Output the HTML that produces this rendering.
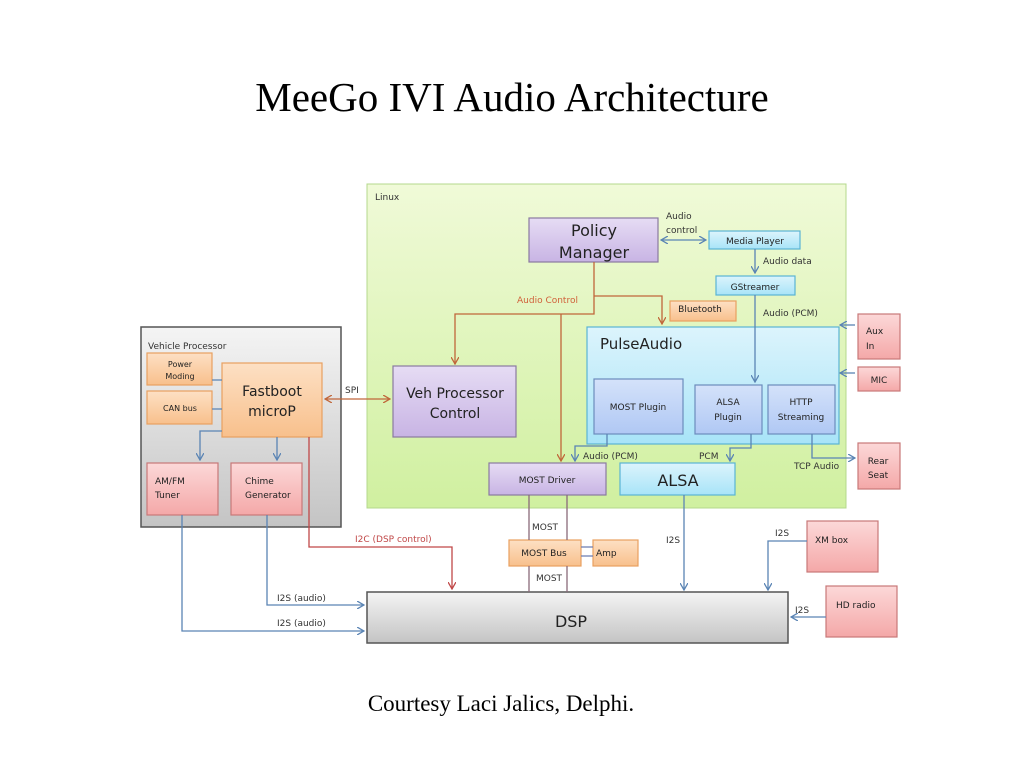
<!DOCTYPE html>
<html><head><meta charset="utf-8"><style>
body{margin:0;background:#fff;width:1024px;height:768px;overflow:hidden}
svg text{font-family:"DejaVu Sans","Liberation Sans",sans-serif}
</style></head><body>
<svg width="1024" height="768" viewBox="0 0 1024 768" xmlns="http://www.w3.org/2000/svg">
<defs>
<linearGradient id="g" x1="0" y1="0" x2="0" y2="1"><stop offset="0" stop-color="#f0fad8"/><stop offset="1" stop-color="#d0f0a0"/></linearGradient>
<linearGradient id="gr" x1="0" y1="0" x2="0" y2="1"><stop offset="0" stop-color="#f4f4f4"/><stop offset="1" stop-color="#c4c4c4"/></linearGradient>
<linearGradient id="pu" x1="0" y1="0" x2="0" y2="1"><stop offset="0" stop-color="#e6dcf4"/><stop offset="1" stop-color="#c8b4e4"/></linearGradient>
<linearGradient id="cy" x1="0" y1="0" x2="0" y2="1"><stop offset="0" stop-color="#dcf4fc"/><stop offset="1" stop-color="#a8e4f8"/></linearGradient>
<linearGradient id="bl" x1="0" y1="0" x2="0" y2="1"><stop offset="0" stop-color="#d4e2fa"/><stop offset="1" stop-color="#b0c8f4"/></linearGradient>
<linearGradient id="or" x1="0" y1="0" x2="0" y2="1"><stop offset="0" stop-color="#fde0c4"/><stop offset="1" stop-color="#f8c08c"/></linearGradient>
<linearGradient id="rd" x1="0" y1="0" x2="0" y2="1"><stop offset="0" stop-color="#fcd8d8"/><stop offset="1" stop-color="#f4a8a8"/></linearGradient>
<marker id="ab" markerWidth="8" markerHeight="8" refX="7" refY="4" orient="auto-start-reverse" markerUnits="userSpaceOnUse"><path d="M0,0 L7,4 L0,8" fill="none" stroke="#5a84b4" stroke-width="1.3"/></marker>
<marker id="ao" markerWidth="8" markerHeight="8" refX="7" refY="4" orient="auto-start-reverse" markerUnits="userSpaceOnUse"><path d="M0,0 L7,4 L0,8" fill="none" stroke="#c0663a" stroke-width="1.3"/></marker>
<marker id="ar" markerWidth="8" markerHeight="8" refX="7" refY="4" orient="auto-start-reverse" markerUnits="userSpaceOnUse"><path d="M0,0 L7,4 L0,8" fill="none" stroke="#c04848" stroke-width="1.3"/></marker>
</defs>
<text x="512" y="111" text-anchor="middle" style="font-family:'Liberation Serif',serif" font-size="41">MeeGo IVI Audio Architecture</text>
<text x="501" y="711" text-anchor="middle" style="font-family:'Liberation Serif',serif" font-size="23">Courtesy Laci Jalics, Delphi.</text>

<rect x="367" y="184" width="479" height="324" fill="url(#g)" stroke="#b4d88c"/>
<text x="375" y="200" font-size="9" fill="#333">Linux</text>
<rect x="141" y="327" width="200" height="200" fill="url(#gr)" stroke="#555" stroke-width="1.5"/>
<text x="148" y="349" font-size="9" fill="#333">Vehicle Processor</text>

<g stroke-width="1.2">
<rect x="529" y="218" width="129" height="44" fill="url(#pu)" stroke="#8a7aa0"/>
<rect x="393" y="366" width="123" height="71" fill="url(#pu)" stroke="#8a7aa0"/>
<rect x="489" y="463" width="117" height="32" fill="url(#pu)" stroke="#8a7aa0"/>
<rect x="709" y="231" width="91" height="18" fill="url(#cy)" stroke="#5ab4d4"/>
<rect x="716" y="276" width="79" height="19" fill="url(#cy)" stroke="#5ab4d4"/>
<rect x="587" y="327" width="252" height="117" fill="url(#cy)" stroke="#5ab4d4"/>
<rect x="620" y="463" width="115" height="32" fill="url(#cy)" stroke="#5ab4d4"/>
<rect x="594" y="379" width="89" height="55" fill="url(#bl)" stroke="#6c8cbc"/>
<rect x="695" y="385" width="67" height="49" fill="url(#bl)" stroke="#6c8cbc"/>
<rect x="768" y="385" width="67" height="49" fill="url(#bl)" stroke="#6c8cbc"/>
<rect x="670" y="301" width="66" height="20" fill="url(#or)" stroke="#e8a060"/>
<rect x="147" y="353" width="65" height="32" fill="url(#or)" stroke="#e8a060"/>
<rect x="147" y="391" width="65" height="33" fill="url(#or)" stroke="#e8a060"/>
<rect x="222" y="363" width="100" height="74" fill="url(#or)" stroke="#e8a060"/>
<rect x="509" y="540" width="72" height="26" fill="url(#or)" stroke="#e8a060"/>
<rect x="593" y="540" width="45" height="26" fill="url(#or)" stroke="#e8a060"/>
<rect x="147" y="463" width="71" height="52" fill="url(#rd)" stroke="#c87878"/>
<rect x="231" y="463" width="71" height="52" fill="url(#rd)" stroke="#c87878"/>
<rect x="858" y="314" width="42" height="45" fill="url(#rd)" stroke="#c87878"/>
<rect x="858" y="367" width="42" height="24" fill="url(#rd)" stroke="#c87878"/>
<rect x="858" y="443" width="42" height="46" fill="url(#rd)" stroke="#c87878"/>
<rect x="807" y="521" width="71" height="51" fill="url(#rd)" stroke="#c87878"/>
<rect x="826" y="586" width="71" height="51" fill="url(#rd)" stroke="#c87878"/>
<rect x="367" y="592" width="421" height="51" fill="url(#gr)" stroke="#555" stroke-width="1.5"/>
</g>

<g font-size="16" fill="#222" text-anchor="middle">
<text x="594" y="236">Policy</text><text x="594" y="258">Manager</text>
<text x="455" y="398" font-size="14">Veh Processor</text><text x="455" y="418" font-size="14">Control</text>
<text x="272" y="396" font-size="14">Fastboot</text><text x="272" y="416" font-size="14">microP</text>
<text x="678" y="486" font-size="16">ALSA</text>
<text x="571" y="627" font-size="16">DSP</text>
</g>
<text x="600" y="349" font-size="15" fill="#222">PulseAudio</text>
<g font-size="9" fill="#222" text-anchor="middle">
<text x="755" y="244">Media Player</text>
<text x="755" y="290">GStreamer</text>
<text x="700" y="312">Bluetooth</text>
<text x="638" y="410">MOST Plugin</text>
<text x="728" y="405">ALSA</text><text x="728" y="420">Plugin</text>
<text x="801" y="405">HTTP</text><text x="801" y="420">Streaming</text>
<text x="547" y="483">MOST Driver</text>
<text x="544" y="556">MOST Bus</text>
<text x="879" y="383">MIC</text>
<text x="878" y="464">Rear</text><text x="878" y="478">Seat</text>
<text x="180" y="367" font-size="8">Power</text><text x="180" y="379" font-size="8">Moding</text>
<text x="180" y="411" font-size="8">CAN bus</text>
</g>
<g font-size="9" fill="#222">
<text x="866" y="334">Aux</text>
<text x="866" y="349">In</text>
<text x="596" y="556">Amp</text>
<text x="155" y="484">AM/FM</text><text x="155" y="498">Tuner</text>
<text x="245" y="484">Chime</text><text x="245" y="498">Generator</text>
<text x="815" y="543">XM box</text>
<text x="836" y="608">HD radio</text>
</g>

<g font-size="9" fill="#333">
<text x="666" y="219">Audio</text><text x="666" y="233">control</text>
<text x="763" y="264">Audio data</text>
<text x="763" y="316">Audio (PCM)</text>
<text x="583" y="459">Audio (PCM)</text>
<text x="699" y="459">PCM</text>
<text x="794" y="469">TCP Audio</text>
<text x="532" y="530">MOST</text>
<text x="536" y="581">MOST</text>
<text x="666" y="543">I2S</text>
<text x="775" y="536">I2S</text>
<text x="795" y="613">I2S</text>
<text x="345" y="393">SPI</text>
<text x="277" y="601">I2S (audio)</text>
<text x="277" y="626">I2S (audio)</text>
</g>
<text x="517" y="303" font-size="9" fill="#d0603a">Audio Control</text>
<text x="355" y="542" font-size="9" fill="#c04848">I2C (DSP control)</text>

<g fill="none" stroke-width="1.3">
<path d="M661,240 L706,240" stroke="#5a84b4" marker-start="url(#ab)" marker-end="url(#ab)"/>
<path d="M755,249 L755,273" stroke="#5a84b4" marker-end="url(#ab)"/>
<path d="M755,295 L755,382" stroke="#5a84b4" marker-end="url(#ab)"/>
<path d="M607,434 L607,446 L575,446 L575,461" stroke="#5a84b4" marker-end="url(#ab)"/>
<path d="M751,434 L751,448 L730,448 L730,461" stroke="#5a84b4" marker-end="url(#ab)"/>
<path d="M812,434 L812,458 L855,458" stroke="#5a84b4" marker-end="url(#ab)"/>
<path d="M855,325 L840,325" stroke="#5a84b4" marker-end="url(#ab)"/>
<path d="M855,373 L840,373" stroke="#5a84b4" marker-end="url(#ab)"/>
<path d="M594,262 L594,314 L455,314 L455,364" stroke="#c0663a" marker-end="url(#ao)"/>
<path d="M594,296 L662,296 L662,324" stroke="#c0663a" marker-end="url(#ao)"/>
<path d="M561,314 L561,461" stroke="#c0663a" marker-end="url(#ao)"/>
<path d="M325,399 L390,399" stroke="#c0663a" marker-start="url(#ao)" marker-end="url(#ao)"/>
<path d="M212,380 L222,380 M212,409 L222,409" stroke="#5a84b4"/>
<path d="M222,431 L200,431 L200,460" stroke="#5a84b4" marker-end="url(#ab)"/>
<path d="M277,437 L277,460" stroke="#5a84b4" marker-end="url(#ab)"/>
<path d="M309,437 L309,547 L452,547 L452,589" stroke="#c04848" marker-end="url(#ar)"/>
<path d="M267,515 L267,605 L364,605" stroke="#5a84b4" marker-end="url(#ab)"/>
<path d="M182,515 L182,631 L364,631" stroke="#5a84b4" marker-end="url(#ab)"/>
<path d="M529,495 L529,540 M529,566 L529,592 M567,495 L567,540 M567,566 L567,592" stroke="#8a6a7a"/>
<path d="M581,547 L593,547 M581,556 L593,556" stroke="#6c7cb0"/>
<path d="M684,495 L684,590" stroke="#5a84b4" marker-end="url(#ab)"/>
<path d="M807,541 L768,541 L768,590" stroke="#5a84b4" marker-end="url(#ab)"/>
<path d="M826,617 L791,617" stroke="#5a84b4" marker-end="url(#ab)"/>
</g>
</svg>
</body></html>
